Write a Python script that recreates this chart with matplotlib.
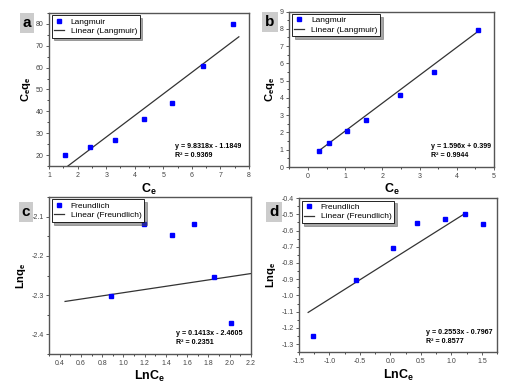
import matplotlib
matplotlib.use('Agg')
import matplotlib.pyplot as plt
from matplotlib.ticker import AutoMinorLocator

plt.rcParams['font.family'] = ['Liberation Sans', 'DejaVu Sans']
plt.rcParams['mathtext.fontset'] = 'custom'
plt.rcParams['mathtext.rm'] = 'Liberation Sans'
plt.rcParams['mathtext.bf'] = 'Liberation Sans:bold'
plt.rcParams['mathtext.it'] = 'Liberation Sans:italic'

# panel a - Langmuir
a_x = [1.55, 2.42, 3.30, 4.32, 5.30, 6.38, 7.45]
a_y = [20.0, 24.0, 27.0, 36.5, 43.7, 60.5, 79.7]
a_fit_x = [1.6, 7.65]
a_fit_y = [14.55, 74.0]

# panel b - Langmuir
b_x = [0.30, 0.58, 1.05, 1.57, 2.47, 3.38, 4.58]
b_y = [0.95, 1.40, 2.10, 2.70, 4.15, 5.50, 7.93]
b_fit_x = [0.30, 4.60]
b_fit_y = [0.95, 7.90]

# panel c - Freundlich
c_x = [0.88, 1.19, 1.46, 1.66, 1.85, 2.01]
c_y = [-2.302, -2.120, -2.148, -2.120, -2.255, -2.372]
c_fit_x = [0.45, 2.20]
c_fit_y = [-2.316, -2.245]

# panel d - Freundlich
d_x = [-1.27, -0.56, 0.04, 0.44, 0.90, 1.22, 1.52]
d_y = [-1.25, -0.905, -0.71, -0.555, -0.53, -0.50, -0.56]
d_fit_x = [-1.35, 1.20]
d_fit_y = [-1.105, -0.50]

panels = [
    dict(x=a_x, y=a_y, fx=a_fit_x, fy=a_fit_y, name='Langmuir', tag='a',
         xlim=(1, 8), ylim=(15, 85), xt=range(1, 9), yt=range(20, 90, 10),
         xl=r'$\mathbf{C_e}$', yl=r'$\mathbf{C_eq_e}$',
         eq='y = 9.8318x - 1.1849\nR² = 0.9369', fmt='{:g}', eqx=0.63),
    dict(x=b_x, y=b_y, fx=b_fit_x, fy=b_fit_y, name='Langmuir', tag='b',
         xlim=(-0.5, 5), ylim=(0, 9), xt=range(0, 6), yt=range(0, 10),
         xl=r'$\mathbf{C_e}$', yl=r'$\mathbf{C_eq_e}$',
         eq='y = 1.596x + 0.399\nR² = 0.9944', fmt='{:g}', eqx=0.69),
    dict(x=c_x, y=c_y, fx=c_fit_x, fy=c_fit_y, name='Freundlich', tag='c',
         xlim=(0.3, 2.2), ylim=(-2.45, -2.05),
         xt=[0.4, 0.6, 0.8, 1.0, 1.2, 1.4, 1.6, 1.8, 2.0, 2.2],
         yt=[-2.4, -2.3, -2.2, -2.1],
         xl=r'$\mathbf{LnC_e}$', yl=r'$\mathbf{Lnq_e}$',
         eq='y = 0.1413x - 2.4605\nR² = 0.2351', fmt='{:.1f}', eqx=0.63),
    dict(x=d_x, y=d_y, fx=d_fit_x, fy=d_fit_y, name='Freundlich', tag='d',
         xlim=(-1.5, 1.75), ylim=(-1.35, -0.4),
         xt=[-1.5, -1.0, -0.5, 0.0, 0.5, 1.0, 1.5],
         yt=[-1.3, -1.2, -1.1, -1.0, -0.9, -0.8, -0.7, -0.6, -0.5, -0.4],
         xl=r'$\mathbf{LnC_e}$', yl=r'$\mathbf{Lnq_e}$',
         eq='y = 0.2553x - 0.7967\nR² = 0.8577', fmt='{:.1f}', eqx=0.64),
]

positions = [
    [0.096, 0.567, 0.390, 0.400],
    [0.565, 0.565, 0.400, 0.405],
    [0.096, 0.078, 0.394, 0.409],
    [0.584, 0.083, 0.387, 0.401],
]
# panel letter centres, in pixels from the top-left
tag_pos = [(27, 23), (270, 22), (26, 212), (274, 212)]

fig = plt.figure(figsize=(5.12, 3.84), dpi=100)

for p, pos, tp in zip(panels, positions, tag_pos):
    ax = fig.add_axes(pos)
    ax.plot(p['x'], p['y'], 's', color='#0000ff', ms=3, label=p['name'], zorder=3)
    ax.plot(p['fx'], p['fy'], '-', color='#333333', lw=0.9,
            label='Linear (%s)' % p['name'])
    ax.set_xlim(*p['xlim'])
    ax.set_ylim(*p['ylim'])
    ax.set_xticks(list(p['xt']))
    ax.set_yticks(list(p['yt']))
    ax.set_xticklabels([p['fmt'].format(v) for v in p['xt']])
    ax.set_yticklabels([p['fmt'].format(v) for v in p['yt']])
    ax.xaxis.set_minor_locator(AutoMinorLocator(2))
    ax.yaxis.set_minor_locator(AutoMinorLocator(2))
    ax.tick_params(labelsize=5, length=2.5, width=0.6, pad=1.5, colors='#444444')
    ax.tick_params(which='minor', length=1.5, width=0.5)
    for s in ax.spines.values():
        s.set_linewidth(1.0)
        s.set_color('#555555')
    ax.set_xlabel(p['xl'], fontsize=9, labelpad=2)
    ax.set_ylabel(p['yl'], fontsize=8, labelpad=2)
    leg = ax.legend(loc='upper left', fontsize=6, frameon=True, fancybox=False,
                    shadow=True, borderaxespad=0.3, handlelength=1.2,
                    borderpad=0.3, labelspacing=0.2, handletextpad=0.8)
    leg.get_frame().set_edgecolor('black')
    leg.get_frame().set_linewidth(0.6)
    ax.text(p['eqx'], 0.1, p['eq'], transform=ax.transAxes, ha='left', va='center',
            fontsize=5.1, fontweight='bold', linespacing=1.4)
    fig.text(tp[0] / 512, 1 - tp[1] / 384, p['tag'], ha='center', va='center',
             fontsize=11, fontweight='bold',
             bbox=dict(boxstyle='square,pad=0.2', fc='#cccccc', ec='none'))

fig.savefig('out.png', dpi=100)
